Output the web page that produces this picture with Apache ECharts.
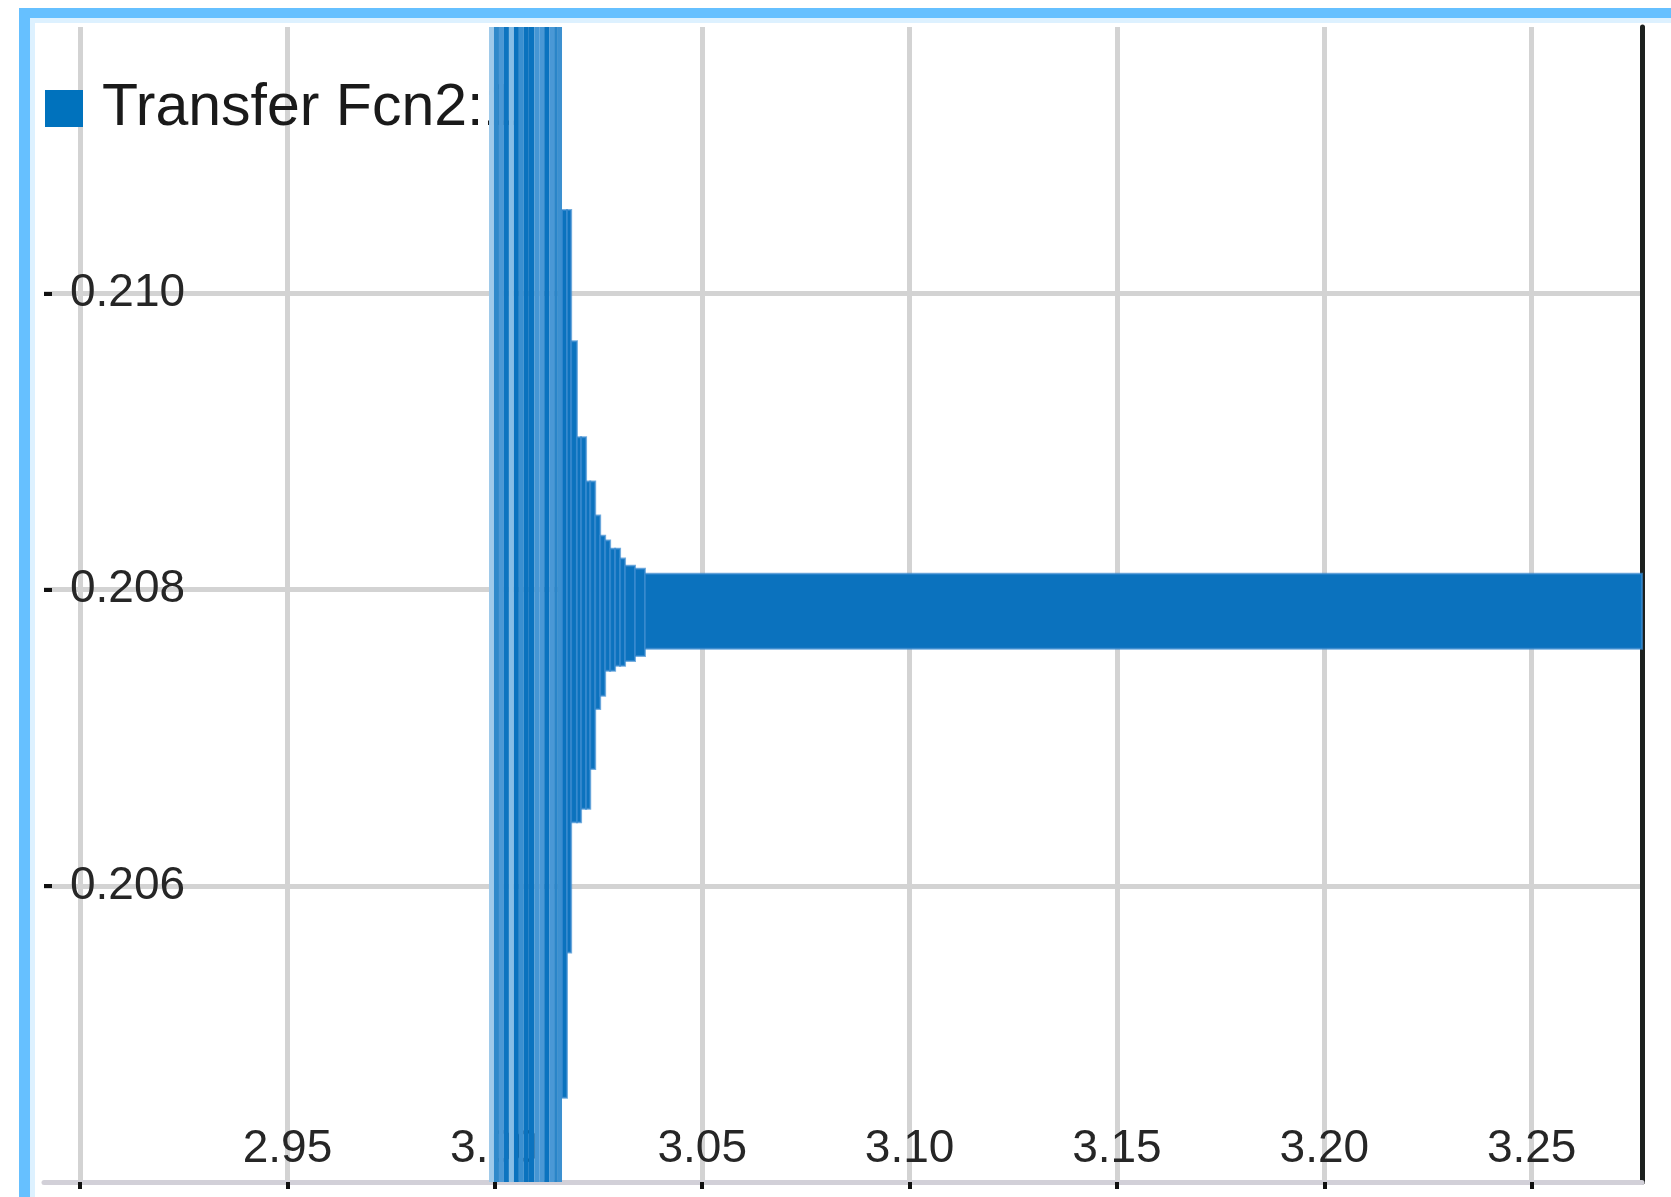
<!DOCTYPE html>
<html>
<head>
<meta charset="utf-8">
<title>Transfer Fcn2:1</title>
<script src="https://cdn.jsdelivr.net/npm/echarts@6/dist/echarts.min.js"></script>
<style>
  html, body { margin: 0; padding: 0; background: #ffffff; }
  #chart { width: 1671px; height: 1197px; }
</style>
</head>
<body>
<div id="chart"></div>
<script>
// Signal name shown in the legend
const signalName = 'Transfer Fcn2:1';

// Start time (s) of each min/max column of the oscillating signal; the last entry closes the final column
const colTimes = [
  2.9986, 2.9998, 3.0010, 3.0022, 3.0034, 3.0046, 3.0058, 3.0070,
  3.0082, 3.0095, 3.0107, 3.0119, 3.0131, 3.0143, 3.0152,
  3.0162, 3.0174, 3.0184, 3.0198, 3.0208, 3.0220, 3.0230, 3.0242,
  3.0254, 3.0266, 3.0278, 3.0290, 3.0302, 3.0314, 3.0338, 3.0362,
  3.2800
];
// Upper extreme of the signal inside each column
const colHigh = [
  0.2125, 0.2125, 0.2125, 0.2125, 0.2125, 0.2125, 0.2125, 0.2125,
  0.2125, 0.2125, 0.2125, 0.2125, 0.2125, 0.2125, 0.2125,
  0.210565, 0.210565, 0.209678, 0.209029, 0.209029, 0.208731, 0.208731, 0.208501,
  0.208365, 0.208332, 0.208277, 0.208277, 0.208210, 0.208162, 0.208142, 0.208108
];
// Lower extreme of the signal inside each column
const colLow = [
  0.2035, 0.2035, 0.2035, 0.2035, 0.2035, 0.2035, 0.2035, 0.2035,
  0.2035, 0.2035, 0.2035, 0.2035, 0.2035, 0.2035, 0.2035,
  0.204569, 0.205550, 0.206430, 0.206430, 0.206520, 0.206520, 0.206789, 0.207195,
  0.207283, 0.207452, 0.207452, 0.207486, 0.207486, 0.207519, 0.207553, 0.207601
];

// Axis ticks and labels
const xTickValues  = [2.90, 2.95, 3.00, 3.05, 3.10, 3.15, 3.20, 3.25];
const xLabelValues = [2.95, 3.00, 3.05, 3.10, 3.15, 3.20, 3.25];
const yTickValues  = [0.206, 0.208, 0.210];
const xRange = [2.8913, 3.2766];
const yRange = [0.2040, 0.2118];

const FONT = '"Liberation Sans", Arial, sans-serif';
const LINE_BLUE = '#0072BD';
// shading of the saturated columns (anti-aliased stripes of the dense trace)
const stripeShades = ['#9fcaea', '#2f89ca', '#4b98d5', '#0d74c0', '#86bde6', '#0a72be',
                      '#3a8fd0', '#0a72be', '#0b73bf', '#4696d4', '#4a98d5', '#0b73bf',
                      '#4a98d5', '#2a85c8', '#3c90d0'];

const columns = colHigh.map((h, i) => [colTimes[i], colTimes[i + 1], colLow[i], h]);

function renderColumn(params, api) {
  const i = params.dataIndex;
  const topLeft = api.coord([api.value(0), api.value(3)]);
  const botRight = api.coord([api.value(1), api.value(2)]);
  const cs = params.coordSys;
  const shape = echarts.graphic.clipRectByRect(
    { x: topLeft[0], y: topLeft[1], width: botRight[0] - topLeft[0], height: botRight[1] - topLeft[1] },
    { x: cs.x, y: cs.y, width: cs.width, height: cs.height }
  );
  if (!shape) return null;
  const saturated = api.value(3) > yRange[1];
  return {
    type: 'rect',
    shape: shape,
    style: saturated
      ? { fill: stripeShades[i % stripeShades.length] }
      : { fill: '#0b72be', stroke: 'rgba(60,140,208,0.7)', lineWidth: 2 }
  };
}

const chart = echarts.init(document.getElementById('chart'), null, { renderer: 'canvas' });

chart.setOption({
  animation: false,
  backgroundColor: '#ffffff',
  textStyle: { fontFamily: FONT },
  graphic: [
    // selection frame along the top and left edges
    { type: 'rect', z: 100, shape: { x: 19, y: 8, width: 1652, height: 10 }, style: { fill: '#66c0ff' } },
    { type: 'rect', z: 100, shape: { x: 19, y: 8, width: 11, height: 1189 }, style: { fill: '#66c0ff' } },
    { type: 'rect', z: 99, shape: { x: 30, y: 18, width: 1641, height: 5 }, style: { fill: '#ddf1ff' } },
    { type: 'rect', z: 99, shape: { x: 30, y: 18, width: 5, height: 1179 }, style: { fill: '#ddf1ff' } }
  ],
  grid: { left: 44, top: 27, right: 29, bottom: 15, containLabel: false },
  legend: {
    z: 1,
    left: 45,
    top: 79,
    padding: 0,
    icon: 'rect',
    itemWidth: 38,
    itemHeight: 37,
    selectedMode: false,
    data: [signalName],
    textStyle: { fontFamily: FONT, fontSize: 59, color: '#1a1a1a', padding: [0, 0, 0, 14] }
  },
  xAxis: {
    type: 'value',
    min: xRange[0],
    max: xRange[1],
    axisLine: { show: true, lineStyle: { color: '#d2d0d8', width: 5 } },
    axisTick: { show: true, inside: false, length: 7, customValues: xTickValues,
                lineStyle: { color: '#111111', width: 4 } },
    splitLine: { show: true, lineStyle: { color: '#d3d3d3', width: 5 } },
    axisLabel: {
      inside: true,
      margin: 10,
      customValues: xLabelValues,
      formatter: v => v.toFixed(2),
      fontFamily: FONT,
      fontSize: 46,
      color: '#262626'
    }
  },
  yAxis: [
    {
      type: 'value',
      position: 'left',
      min: yRange[0],
      max: yRange[1],
      axisLine: { show: false },
      axisTick: { show: true, inside: true, length: 8, customValues: yTickValues,
                  lineStyle: { color: '#111111', width: 4 } },
      splitLine: { show: true, lineStyle: { color: '#d3d3d3', width: 5 } },
      axisLabel: {
        inside: true,
        margin: 26,
        customValues: yTickValues,
        formatter: v => v.toFixed(3),
        fontFamily: FONT,
        fontSize: 46,
        color: '#262626'
      }
    },
    {
      // right-hand edge of the plotting area
      type: 'value',
      position: 'right',
      min: yRange[0],
      max: yRange[1],
      axisLine: { show: true, lineStyle: { color: '#1d211f', width: 5 } },
      axisTick: { show: false },
      axisLabel: { show: false },
      splitLine: { show: false }
    }
  ],
  series: [
    {
      name: signalName,
      type: 'custom',
      z: 2,
      xAxisIndex: 0,
      yAxisIndex: 0,
      itemStyle: { color: LINE_BLUE },
      renderItem: renderColumn,
      encode: { x: [0, 1], y: [2, 3] },
      data: columns
    }
  ]
});
</script>
</body>
</html>
